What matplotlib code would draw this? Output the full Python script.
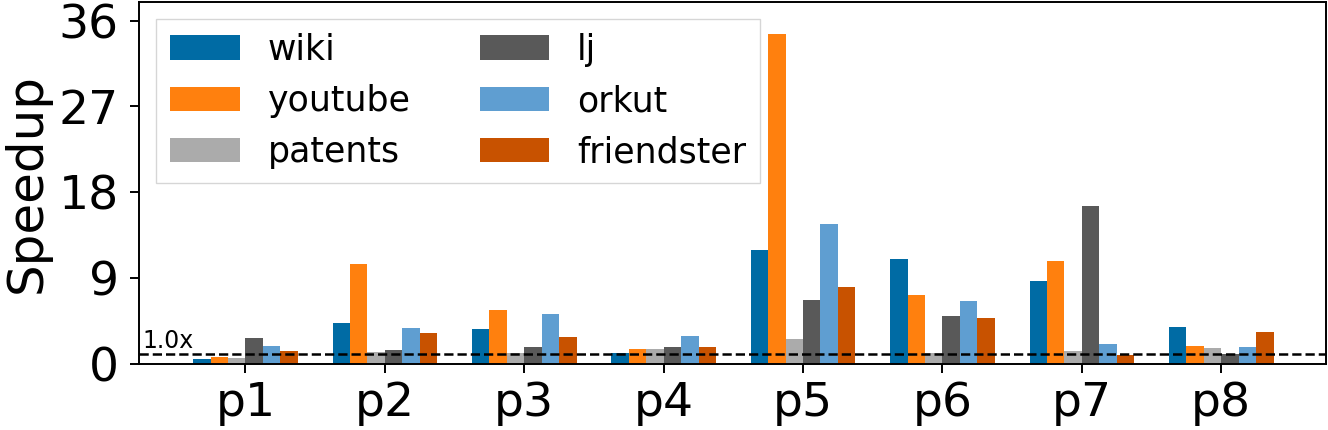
import numpy as np
import matplotlib
matplotlib.use('Agg')
import matplotlib.pyplot as plt

patterns = ['p1', 'p2', 'p3', 'p4', 'p5', 'p6', 'p7', 'p8']
graphs = ['wiki', 'youtube', 'patents', 'lj', 'orkut', 'friendster']
colors = ['#006BA4', '#FF800E', '#ABABAB', '#595959', '#5F9ED1', '#C85200']

# speedup per graph, one value per pattern
wiki = [0.56, 4.28, 3.68, 1.16, 12.0, 11.0, 8.7, 3.86]
youtube = [0.74, 10.5, 5.68, 1.58, 34.6, 7.26, 10.83, 1.93]
patents = [0.63, 1.23, 1.19, 1.61, 2.6, 1.15, 1.37, 1.68]
lj = [2.7, 1.47, 1.82, 1.79, 6.73, 5.0, 16.6, 1.02]
orkut = [1.9, 3.79, 5.22, 2.9, 14.7, 6.59, 2.1, 1.82]
friendster = [1.37, 3.26, 2.84, 1.79, 8.06, 4.8, 0.98, 3.36]
series = [wiki, youtube, patents, lj, orkut, friendster]

fig = plt.figure(figsize=(13.28, 4.3), dpi=100)
ax = fig.add_axes([0.1047, 0.1535, 0.894, 0.843])

x = np.arange(len(patterns))
width = 0.125
for i, (name, vals) in enumerate(zip(graphs, series)):
    offs = (i - 2.5) * width
    ax.bar(x + offs, vals, width, color=colors[i], label=name)

ax.axhline(1.0, color='black', linestyle='--', linewidth=1.8)
ax.text(-0.74, 1.7, '1.0x', fontsize=17, va='baseline', ha='left')

ax.set_xlim(-0.763, 7.753)
ax.set_ylim(0, 38)
ax.set_yticks([0, 9, 18, 27, 36])
ax.set_xticks(x)
ax.set_xticklabels(patterns)
ax.tick_params(axis='both', labelsize=34, length=6.5, width=1.4)
ax.tick_params(axis='x', pad=6)
ax.tick_params(axis='y', pad=8)
ax.set_ylabel('Speedup', fontsize=36, labelpad=6)
for sp in ax.spines.values():
    sp.set_linewidth(1.4)

ax.legend(loc='upper left', ncol=2, fontsize=25, fancybox=False)

fig.savefig('out.png', dpi=100)
